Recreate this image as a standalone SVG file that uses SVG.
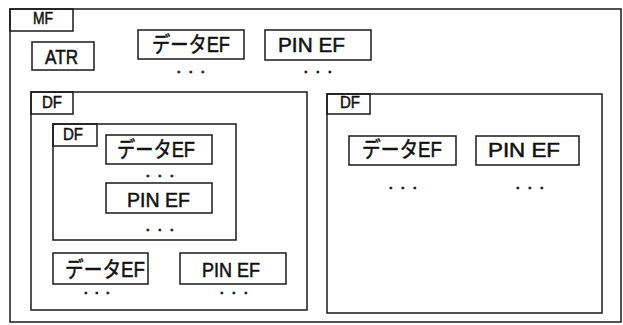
<svg xmlns="http://www.w3.org/2000/svg" width="623" height="325" viewBox="0 0 623 325">
<style>
rect{fill:none;stroke:#1a1a1a;stroke-width:1.5}
rect.bg{fill:#fff;stroke:none}
text{font-family:"Liberation Sans","Noto Sans CJK JP",sans-serif;fill:#111;stroke:#111;stroke-width:0.5}
.lbl{font-size:16px}
.big{font-size:20px}
.jp{font-size:22px}
.dots{font-size:13px;font-weight:bold;stroke-width:0.6}
</style>
<rect class="bg" x="0" y="0" width="623" height="325"/>
<g id="mf">
<rect x="10" y="9" width="611" height="313"/>
<rect x="10" y="9" width="63" height="22"/>
<text class="lbl" x="33" y="24" textLength="20" lengthAdjust="spacingAndGlyphs">MF</text>
</g>
<g id="atr">
<rect x="32" y="42" width="62" height="28"/>
<text class="big" x="45" y="64" textLength="33" lengthAdjust="spacingAndGlyphs">ATR</text>
</g>
<g id="mf-data-ef">
<rect x="138" y="30" width="106" height="29"/>
<text class="jp" x="152" y="52" textLength="78" lengthAdjust="spacingAndGlyphs">データEF</text>
<text class="dots" x="177 189 201" y="73">...</text>
</g>
<g id="mf-pin-ef">
<rect x="265" y="30" width="106" height="30"/>
<text class="big" x="278" y="52" textLength="67" lengthAdjust="spacingAndGlyphs">PIN EF</text>
<text class="dots" x="304 316 328" y="73">...</text>
</g>
<g id="df-left">
<rect x="31" y="92" width="276" height="218"/>
<rect x="31" y="92" width="42" height="22"/>
<text class="lbl" x="42" y="108" textLength="20" lengthAdjust="spacingAndGlyphs">DF</text>
</g>
<g id="df-inner">
<rect x="53" y="124" width="183" height="116"/>
<rect x="53" y="124" width="44" height="22"/>
<text class="lbl" x="63" y="140" textLength="20" lengthAdjust="spacingAndGlyphs">DF</text>
</g>
<g id="inner-data-ef">
<rect x="106" y="135" width="106" height="29"/>
<text class="jp" x="117" y="157" textLength="78" lengthAdjust="spacingAndGlyphs">データEF</text>
<text class="dots" x="146 158 170" y="177">...</text>
</g>
<g id="inner-pin-ef">
<rect x="106" y="183" width="106" height="30"/>
<text class="big" x="127" y="207" textLength="63" lengthAdjust="spacingAndGlyphs">PIN EF</text>
<text class="dots" x="146 158 170" y="231">...</text>
</g>
<g id="left-data-ef">
<rect x="53" y="253" width="95" height="31"/>
<text class="jp" x="65" y="277" textLength="80" lengthAdjust="spacingAndGlyphs">データEF</text>
<text class="dots" x="84 95 106" y="294">...</text>
</g>
<g id="left-pin-ef">
<rect x="180" y="253" width="106" height="31"/>
<text class="big" x="202" y="277" textLength="58" lengthAdjust="spacingAndGlyphs">PIN EF</text>
<text class="dots" x="220 232 244" y="294">...</text>
</g>
<g id="df-right">
<rect x="327" y="94" width="275" height="219"/>
<rect x="327" y="94" width="43" height="20"/>
<text class="lbl" x="340" y="108" textLength="20" lengthAdjust="spacingAndGlyphs">DF</text>
</g>
<g id="right-data-ef">
<rect x="349" y="136" width="107" height="29"/>
<text class="jp" x="362" y="157" textLength="80" lengthAdjust="spacingAndGlyphs">データEF</text>
<text class="dots" x="389 401 413" y="189">...</text>
</g>
<g id="right-pin-ef">
<rect x="476" y="136" width="103" height="29"/>
<text class="big" x="488" y="157" textLength="72" lengthAdjust="spacingAndGlyphs">PIN EF</text>
<text class="dots" x="516 528 540" y="189">...</text>
</g>
<g id="connectors"/>
</svg>
